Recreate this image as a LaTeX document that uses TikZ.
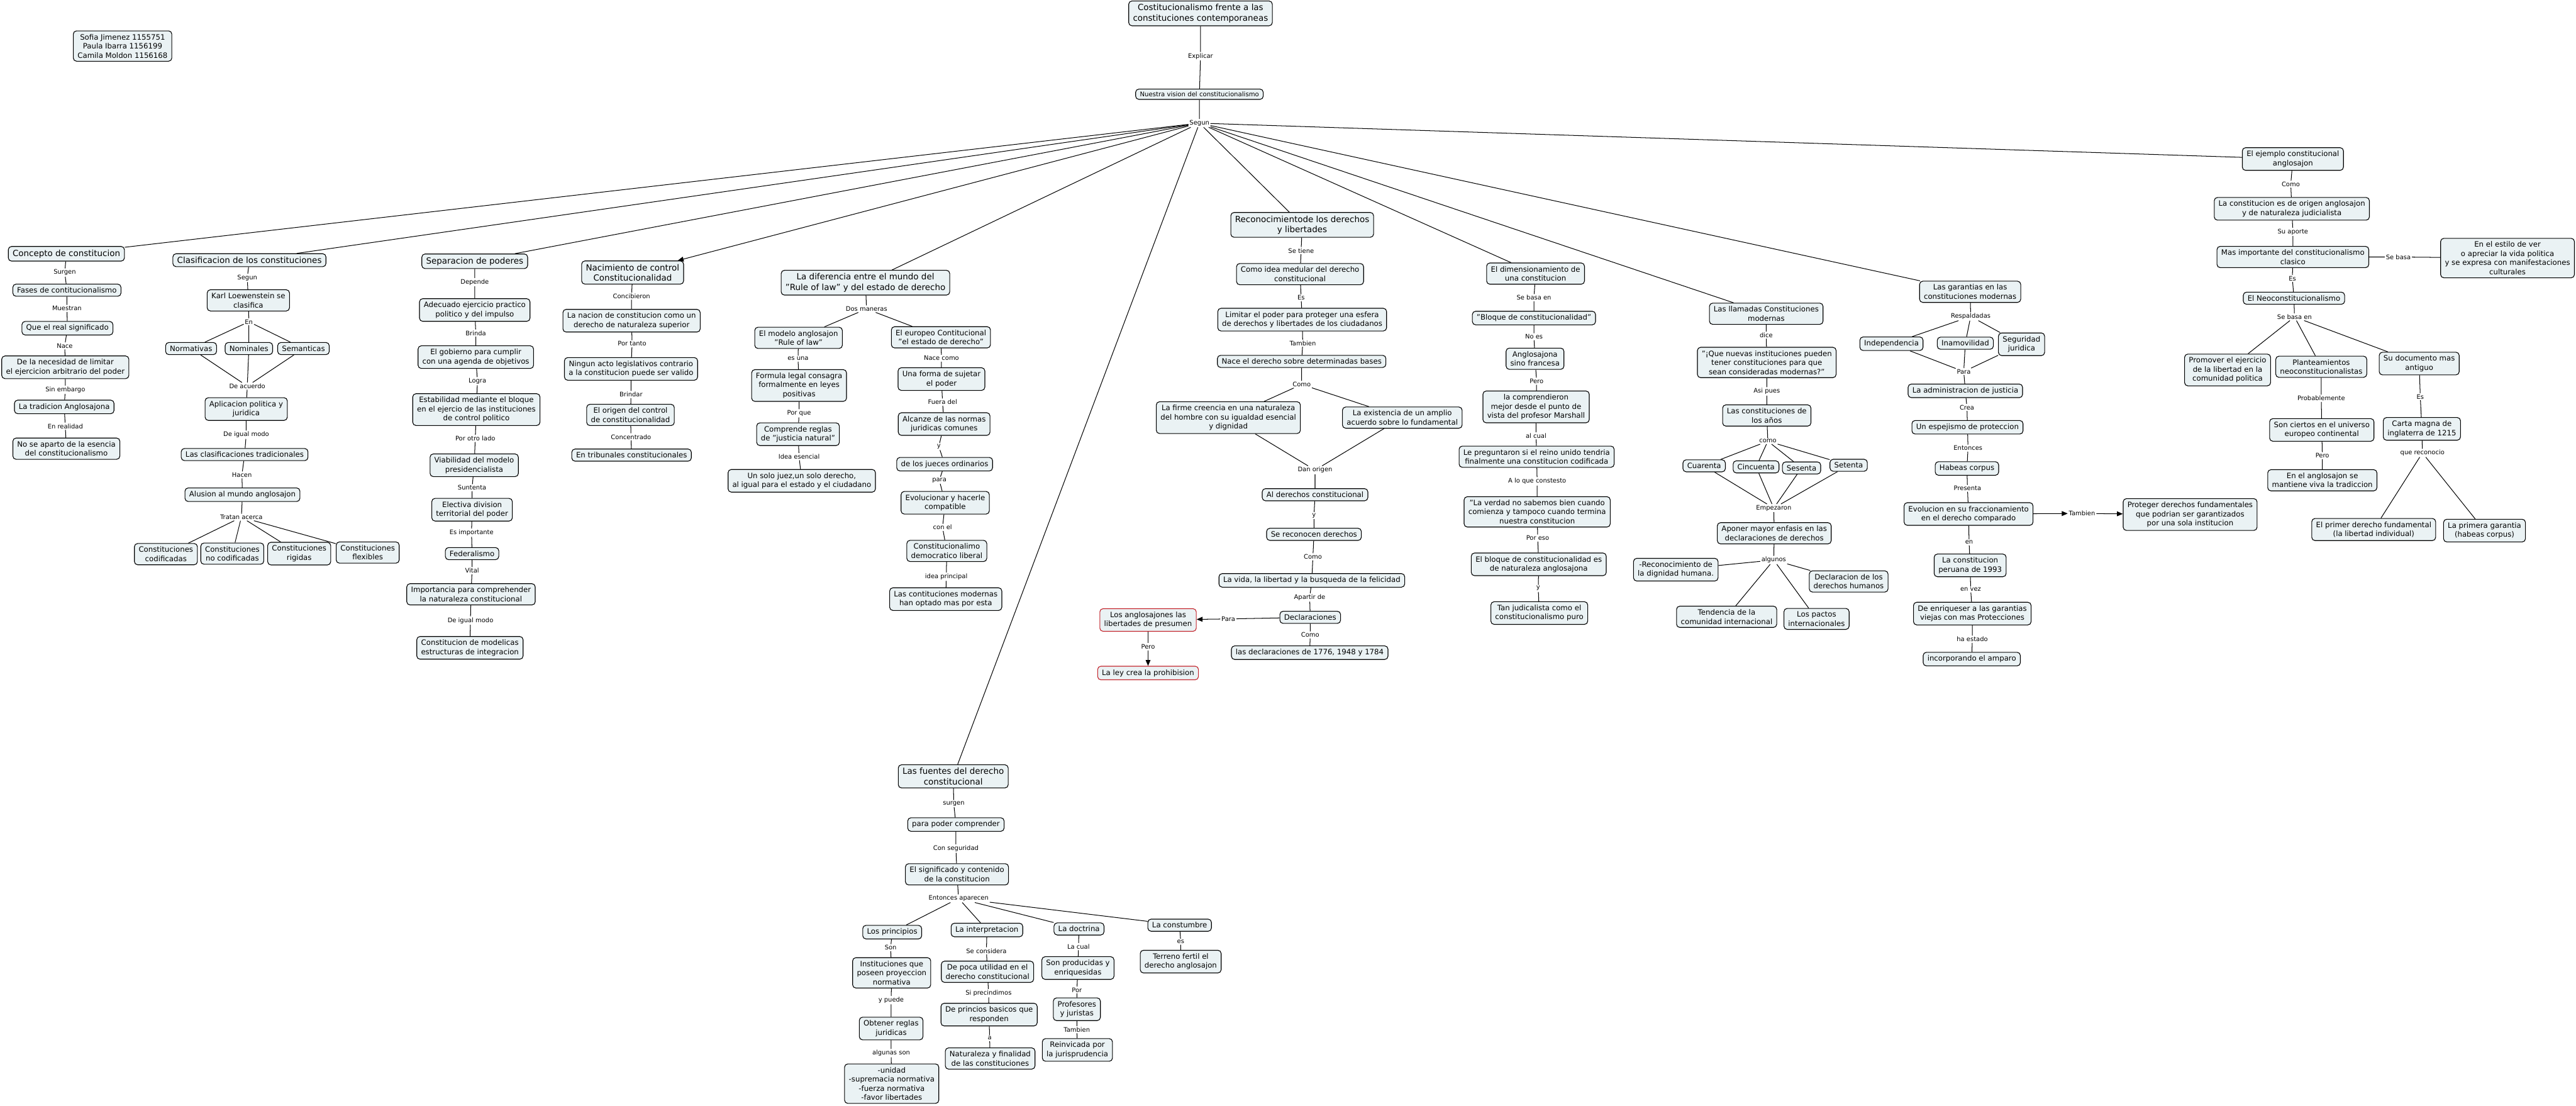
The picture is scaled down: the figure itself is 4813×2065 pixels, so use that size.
\documentclass[tikz,border=0pt]{standalone}
\usepackage{fontspec}
\setmainfont{DejaVu Sans}
\usetikzlibrary{arrows.meta}
\definecolor{boxfill}{RGB}{234,242,244}
\definecolor{boxred}{RGB}{196,36,44}
\newcommand\fnNorm{\fontsize{13.8}{17}\selectfont}
\newcommand\fnBig{\fontsize{15.8}{19}\selectfont}
\newcommand\fnLbl{\fontsize{11.7}{14}\selectfont}
\newcommand\fnSmall{\fontsize{11.9}{14}\selectfont}
\begin{document}
\begin{tikzpicture}[x=1pt,y={(0pt,-1pt)},
  box/.style={draw=black, fill=boxfill, rounded corners=6pt, line width=1.3pt, align=center, inner xsep=8pt, inner ysep=6pt, font=\fnNorm},
  big/.style={box, font=\fnBig},
  redbox/.style={box, draw=boxred},
  lbl/.style={inner sep=2pt, font=\fnLbl},
  con/.style={line width=1.2pt},
  arr/.style={con, -{Triangle[length=11pt,width=9pt]}}]
\fill[white] (0,0) rectangle (4813,2065);
\useasboundingbox (0,0) rectangle (4813,2065);

% ---- top ----
\node[box] (auth) at (229,86) {Sofia Jimenez 1155751\\Paula Ibarra 1156199\\Camila Moldon 1156168};
\node[big] (title) at (2243,25) {Costitucionalismo frente a las\\constituciones contemporaneas};
\node[lbl] (lexpl) at (2243,105) {Explicar};
\node[box, font=\fnSmall, inner ysep=5pt] (vision) at (2241,176) {Nuestra vision del constitucionalismo};
\node[lbl] (lsegun) at (2241,230) {Segun};

% ---- column 1 ----
\node[big] (c1) at (124,474) {Concepto de constitucion};
\node[lbl] (l1a) at (121,509) {Surgen};
\node[box] (c1b) at (125,542) {Fases de contitucionalismo};
\node[lbl] (l1b) at (125,576) {Muestran};
\node[box] (c1c) at (126,613) {Que el real significado};
\node[lbl] (l1c) at (121,646) {Nace};
\node[box] (c1d) at (122,686) {De la necesidad de limitar\\el ejercicion arbitrario del poder};
\node[lbl] (l1d) at (122,728) {Sin embargo};
\node[box] (c1e) at (120,760) {La tradicion Anglosajona};
\node[lbl] (l1e) at (122,796) {En realidad};
\node[box] (c1f) at (124,838) {No se aparto de la esencia\\del constitucionalismo};

% ---- column 2 ----
\node[big] (c2) at (466,486) {Clasificacion de los constituciones};
\node[lbl] (l2a) at (462,519) {Segun};
\node[box] (c2b) at (464,561) {Karl Loewenstein se\\clasifica};
\node[lbl] (l2b) at (465,601) {En};
\node[box] (c2n1) at (357,651) {Normativas};
\node[box] (c2n2) at (465,651) {Nominales};
\node[box] (c2n3) at (567,651) {Semanticas};
\node[lbl] (l2c) at (462,721) {De acuerdo};
\node[box] (c2c) at (460,764) {Aplicacion politica y\\juridica};
\node[lbl] (l2d) at (460,812) {De igual modo};
\node[box] (c2d) at (457,849) {Las clasificaciones tradicionales};
\node[lbl] (l2e) at (452,887) {Hacen};
\node[box] (c2e) at (453,924) {Alusion al mundo anglosajon};
\node[lbl] (l2f) at (451,966) {Tratan acerca};
\node[box] (c2f1) at (310,1035) {Constituciones\\codificadas};
\node[box] (c2f2) at (434,1034) {Constituciones\\no codificadas};
\node[box] (c2f3) at (559,1034) {Constituciones\\rigidas};
\node[box] (c2f4) at (687,1032) {Constituciones\\flexibles};

% ---- column 3 ----
\node[big] (c3) at (887,488) {Separacion de poderes};
\node[lbl] (l3a) at (887,527) {Depende};
\node[box] (c3b) at (887,579) {Adecuado ejercicio practico\\politico y del impulso};
\node[lbl] (l3b) at (889,622) {Brinda};
\node[box] (c3c) at (889,667) {El gobierno para cumplir\\con una agenda de objetivos};
\node[lbl] (l3c) at (892,712) {Logra};
\node[box] (c3d) at (890,765) {Estabilidad mediante el bloque\\en el ejercio de las instituciones\\de control politico};
\node[lbl] (l3d) at (888,819) {Por otro lado};
\node[box] (c3e) at (886,869) {Viabilidad del modelo\\presidencialista};
\node[lbl] (l3e) at (882,911) {Suntenta};
\node[box] (c3f) at (882,952) {Electiva division\\territorial del poder};
\node[lbl] (l3f) at (881,995) {Es importante};
\node[box] (c3g) at (882,1034) {Federalismo};
\node[lbl] (l3g) at (882,1066) {Vital};
\node[box] (c3h) at (880,1110) {Importancia para comprehender\\la naturaleza constitucional};
\node[lbl] (l3h) at (879,1159) {De igual modo};
\node[box] (c3i) at (878,1210) {Constitucion de modelicas\\estructuras de integracion};

% ---- column 4 ----
\node[big] (c4) at (1182,509) {Nacimiento de control\\Constitucionalidad};
\node[lbl] (l4a) at (1180,553) {Concibieron};
\node[box] (c4b) at (1180,599) {La nacion de constitucion como un\\derecho de naturaleza superior};
\node[lbl] (l4b) at (1181,642) {Por tanto};
\node[box] (c4c) at (1179,689) {Ningun acto legislativos contrario\\a la constitucion puede ser valido};
\node[lbl] (l4c) at (1179,737) {Brindar};
\node[box] (c4d) at (1178,775) {El origen del control\\de constitucionalidad};
\node[lbl] (l4d) at (1179,816) {Concentrado};
\node[box] (c4e) at (1180,850) {En tribunales constitucionales};

% ---- column 5 ----
\node[big] (c5) at (1617,528) {La diferencia entre el mundo del\\"Rule of law" y del estado de derecho};
\node[lbl] (l5a) at (1619,577) {Dos maneras};
\node[box] (c5m) at (1492,631) {El modelo anglosajon\\"Rule of law"};
\node[lbl] (l5b) at (1491,670) {es una};
\node[box] (c5m2) at (1493,720) {Formula legal consagra\\formalmente en leyes\\positivas};
\node[lbl] (l5c) at (1493,772) {Por que};
\node[box] (c5m3) at (1491,811) {Comprende reglas\\de "justicia natural"};
\node[lbl] (l5d) at (1493,853) {Idea esencial};
\node[box] (c5m4) at (1498,898) {Un solo juez,un solo derecho,\\al igual para el estado y el ciudadano};
\node[box] (c5e) at (1758,630) {El europeo Contitucional\\"el estado de derecho"};
\node[lbl] (l5e) at (1759,669) {Nace como};
\node[box] (c5e2) at (1759,708) {Una forma de sujetar\\el poder};
\node[lbl] (l5f) at (1761,751) {Fuera del};
\node[box] (c5e3) at (1764,792) {Alcanze de las normas\\juridicas comunes};
\node[lbl] (l5g) at (1754,834) {y};
\node[box] (c5e4) at (1765,867) {de los jueces ordinarios};
\node[lbl] (l5h) at (1755,897) {para};
\node[box] (c5e5) at (1766,939) {Evolucionar y hacerle\\compatible};
\node[lbl] (l5i) at (1761,985) {con el};
\node[box] (c5e6) at (1769,1029) {Constitucionalimo\\democratico liberal};
\node[lbl] (l5j) at (1768,1077) {idea principal};
\node[box] (c5e7) at (1767,1119) {Las contituciones modernas\\han optado mas por esta};

% ---- red nodes ----
\node[redbox] (red1) at (2145,1158) {Los anglosajones las\\libertades de presumen};
\node[lbl] (lpero) at (2145,1208) {Pero};
\node[redbox] (red2) at (2145,1257) {La ley crea la prohibision};

% ---- fuentes ----
\node[big] (f0) at (1781,1450) {Las fuentes del derecho\\constitucional};
\node[lbl] (lf1) at (1782,1501) {surgen};
\node[box] (f1) at (1786,1540) {para poder comprender};
\node[lbl] (lf2) at (1786,1585) {Con seguridad};
\node[box] (f2) at (1788,1633) {El significado y contenido\\de la constitucion};
\node[lbl] (lf3) at (1791,1678) {Entonces aparecen};
\node[box] (fp) at (1667,1741) {Los principios};
\node[box] (fi) at (1844,1737) {La interpretacion};
\node[box] (fd) at (2016,1735) {La doctrina};
\node[box] (fc) at (2204,1728) {La constumbre};
\node[lbl] (lfp1) at (1664,1770) {Son};
\node[box] (fp1) at (1666,1817) {Instituciones que\\poseen proyeccion\\normativa};
\node[lbl] (lfp2) at (1665,1868) {y puede};
\node[box] (fp2) at (1665,1921) {Obtener reglas\\juridicas};
\node[lbl] (lfp3) at (1665,1967) {algunas son};
\node[box] (fp3) at (1666,2024) {-unidad\\-supremacia normativa\\-fuerza normativa\\-favor libertades};
\node[lbl] (lfi1) at (1843,1776) {Se considera};
\node[box] (fi1) at (1845,1815) {De poca utilidad en el\\derecho constitucional};
\node[lbl] (lfi2) at (1847,1855) {Si precindimos};
\node[box] (fi2) at (1848,1895) {De princios basicos que\\responden};
\node[lbl] (lfi3) at (1849,1939) {a};
\node[box] (fi3) at (1850,1977) {Naturaleza y finalidad\\de las constituciones};
\node[lbl] (lfd1) at (2015,1768) {La cual};
\node[box] (fd1) at (2014,1808) {Son producidas y\\enriquesidas};
\node[lbl] (lfd2) at (2012,1849) {Por};
\node[box] (fd2) at (2012,1885) {Profesores\\y juristas};
\node[lbl] (lfd3) at (2012,1923) {Tambien};
\node[box] (fd3) at (2013,1961) {Reinvicada por\\la jurisprudencia};
\node[lbl] (lfc1) at (2206,1759) {es};
\node[box] (fc1) at (2206,1796) {Terreno fertil el\\derecho anglosajon};

% ---- reconocimiento ----
\node[big] (r0) at (2433,420) {Reconocimientode los derechos\\y libertades};
\node[lbl] (lr1) at (2431,468) {Se tiene};
\node[box] (r1) at (2429,512) {Como idea medular del derecho\\constitucional};
\node[lbl] (lr2) at (2431,556) {Es};
\node[box] (r2) at (2433,597) {Limitar el poder para proteger una esfera\\de derechos y libertades de los ciudadanos};
\node[lbl] (lr3) at (2434,641) {Tambien};
\node[box] (r3) at (2432,675) {Nace el derecho sobre determinadas bases};
\node[lbl] (lr4) at (2432,718) {Como};
\node[box] (r4a) at (2295,780) {La firme creencia en una naturaleza\\del hombre con su igualdad esencial\\y dignidad};
\node[box] (r4b) at (2620,780) {La existencia de un amplio\\acuerdo sobre lo fundamental};
\node[lbl] (lr5) at (2457,878) {Dan origen};
\node[box] (r5) at (2457,924) {Al derechos constitucional};
\node[lbl] (lr6) at (2455,963) {y};
\node[box] (r6) at (2455,998) {Se reconocen derechos};
\node[lbl] (lr7) at (2453,1040) {Como};
\node[box] (r7) at (2451,1084) {La vida, la libertad y la busqueda de la felicidad};
\node[lbl] (lr8) at (2447,1116) {Apartir de};
\node[box] (r8) at (2448,1153) {Declaraciones};
\node[lbl] (lr9) at (2448,1186) {Como};
\node[box] (r9) at (2447,1219) {las declaraciones de 1776, 1948 y 1784};
\node[lbl] (lpara) at (2295,1156) {Para};

% ---- dimensionamiento ----
\node[box] (d0) at (2869,511) {El dimensionamiento de\\una constitucion};
\node[lbl] (ld1) at (2866,556) {Se basa en};
\node[box] (d1) at (2866,594) {"Bloque de constitucionalidad"};
\node[lbl] (ld2) at (2866,629) {No es};
\node[box] (d2) at (2868,670) {Anglosajona\\sino francesa};
\node[lbl] (ld3) at (2871,712) {Pero};
\node[box] (d3) at (2870,760) {la comprendieron\\mejor desde el punto de\\vista del profesor Marshall};
\node[lbl] (ld4) at (2870,814) {al cual};
\node[box] (d4) at (2871,853) {Le preguntaron si el reino unido tendria\\finalmente una constitucion codificada};
\node[lbl] (ld5) at (2872,899) {A lo que constesto};
\node[box] (d5) at (2872,956) {"La verdad no sabemos bien cuando\\comienza y tampoco cuando termina\\nuestra constitucion};
\node[lbl] (ld6) at (2873,1005) {Por eso};
\node[box] (d6) at (2875,1054) {El bloque de constitucionalidad es\\de naturaleza anglosajona};
\node[lbl] (ld7) at (2874,1099) {y};
\node[box] (d7) at (2876,1145) {Tan judicalista como el\\constitucionalismo puro};

% ---- llamadas ----
\node[box] (m0) at (3300,586) {Las llamadas Constituciones\\modernas};
\node[lbl] (lm1) at (3300,626) {dice};
\node[box] (m1) at (3301,677) {"¡Que nuevas instituciones pueden\\tener constituciones para que\\sean consideradas modernas?"};
\node[lbl] (lm2) at (3301,731) {Asi pues};
\node[box] (m2) at (3301,776) {Las constituciones de\\los años};
\node[lbl] (lm3) at (3303,824) {como};
\node[box] (m3a) at (3184,870) {Cuarenta};
\node[box] (m3b) at (3281,872) {Cincuenta};
\node[box] (m3c) at (3366,874) {Sesenta};
\node[box] (m3d) at (3454,869) {Setenta};
\node[lbl] (lm4) at (3314,949) {Empezaron};
\node[box] (m4) at (3315,996) {Aponer mayor enfasis en las\\declaraciones de derechos};
\node[lbl] (lm5) at (3314,1046) {algunos};
\node[box] (m5a) at (3131,1064) {-Reconocimiento de\\la dignidad humana.};
\node[box] (m5b) at (3454,1086) {Declaracion de los\\derechos humanos};
\node[box] (m5c) at (3226,1152) {Tendencia de la\\comunidad internacional};
\node[box] (m5d) at (3394,1156) {Los pactos\\internacionales};

% ---- garantias ----
\node[box] (g0) at (3681,545) {Las garantias en las\\constituciones modernas};
\node[lbl] (lg1) at (3682,591) {Respaldadas};
\node[box] (g1a) at (3534,642) {Independencia};
\node[box] (g1b) at (3672,641) {Inamovilidad};
\node[box] (g1c) at (3777,643) {Seguridad\\juridica};
\node[lbl] (lg2) at (3669,694) {Para};
\node[box] (g2) at (3672,730) {La administracion de justicia};
\node[lbl] (lg3) at (3675,761) {Crea};
\node[box] (g3) at (3676,798) {Un espejismo de proteccion};
\node[lbl] (lg4) at (3677,837) {Entonces};
\node[box] (g4) at (3675,875) {Habeas corpus};
\node[lbl] (lg5) at (3676,912) {Presenta};
\node[box] (g5) at (3678,960) {Evolucion en su fraccionamiento\\en el derecho comparado};
\node[lbl] (ltamb) at (3890,959) {Tambien};
\node[box] (gprot) at (4092,961) {Proteger derechos fundamentales\\que podrian ser garantizados\\por una sola institucion};
\node[lbl] (lg6) at (3679,1013) {en};
\node[box] (g6) at (3681,1056) {La constitucion\\peruana de 1993};
\node[lbl] (lg7) at (3682,1101) {en vez};
\node[box] (g7) at (3685,1146) {De enriqueser a las garantias\\viejas con mas Protecciones};
\node[lbl] (lg8) at (3685,1194) {ha estado};
\node[box] (g8) at (3684,1231) {incorporando el amparo};

% ---- ejemplo ----
\node[box] (e0) at (4284,297) {El ejemplo constitucional\\anglosajon};
\node[lbl] (le1) at (4280,344) {Como};
\node[box] (e1) at (4282,390) {La constitucion es de origen anglosajon\\y de naturaleza judicialista};
\node[lbl] (le2) at (4284,433) {Su aporte};
\node[box] (e2) at (4284,480) {Mas importante del constitucionalismo\\clasico};
\node[lbl] (lebasa) at (4481,480) {Se basa};
\node[box] (eestilo) at (4685,482) {En el estilo de ver\\o apreciar la vida politica\\y se expresa con manifestaciones\\culturales};
\node[lbl] (le3) at (4283,520) {Es};
\node[box] (e3) at (4286,557) {El Neoconstitucionalismo};
\node[lbl] (le4) at (4287,592) {Se basa en};
\node[box] (ep) at (4162,691) {Promover el ejercicio\\de la libertad en la\\comunidad politica};
\node[box] (epl) at (4337,685) {Planteamientos\\neoconstitucionalistas};
\node[box] (ed) at (4520,679) {Su documento mas\\antiguo};
\node[lbl] (le5) at (4337,744) {Probablemente};
\node[box] (es) at (4338,803) {Son ciertos en el universo\\europeo continental};
\node[lbl] (le6) at (4339,851) {Pero};
\node[box] (ea) at (4339,897) {En el anglosajon se\\mantiene viva la tradiccion};
\node[lbl] (le7) at (4522,741) {Es};
\node[box] (ec) at (4525,801) {Carta magna de\\inglaterra de 1215};
\node[lbl] (le8) at (4526,846) {que reconocio};
\node[box] (ep1) at (4435,989) {El primer derecho fundamental\\(la libertad individual)};
\node[box] (ep2) at (4642,991) {La primera garantia\\(habeas corpus)};

% ================= connectors =================
\draw[con] (title) -- (lexpl) -- (vision) -- (lsegun);
\foreach \t in {c1,c2,c3,c5,f0,r0,d0,m0,g0,e0} \draw[con] (lsegun) -- (\t);
\draw[arr] (lsegun) -- (c4);

\draw[con] (c1) -- (l1a) -- (c1b) -- (l1b) -- (c1c) -- (l1c) -- (c1d) -- (l1d) -- (c1e) -- (l1e) -- (c1f);

\draw[con] (c2) -- (l2a) -- (c2b) -- (l2b);
\foreach \n in {c2n1,c2n2,c2n3} \draw[con] (l2b) -- (\n) -- (l2c);
\draw[con] (l2c) -- (c2c) -- (l2d) -- (c2d) -- (l2e) -- (c2e) -- (l2f);
\foreach \n in {c2f1,c2f2,c2f3,c2f4} \draw[con] (l2f) -- (\n);

\draw[con] (c3) -- (l3a) -- (c3b) -- (l3b) -- (c3c) -- (l3c) -- (c3d) -- (l3d) -- (c3e) -- (l3e) -- (c3f) -- (l3f) -- (c3g) -- (l3g) -- (c3h) -- (l3h) -- (c3i);

\draw[con] (c4) -- (l4a) -- (c4b) -- (l4b) -- (c4c) -- (l4c) -- (c4d) -- (l4d) -- (c4e);

\draw[con] (c5) -- (l5a);
\draw[con] (l5a) -- (c5m) -- (l5b) -- (c5m2) -- (l5c) -- (c5m3) -- (l5d) -- (c5m4);
\draw[con] (l5a) -- (c5e) -- (l5e) -- (c5e2) -- (l5f) -- (c5e3) -- (l5g) -- (c5e4) -- (l5h) -- (c5e5) -- (l5i) -- (c5e6) -- (l5j) -- (c5e7);

\draw[con] (f0) -- (lf1) -- (f1) -- (lf2) -- (f2) -- (lf3);
\foreach \n in {fp,fi,fd,fc} \draw[con] (lf3) -- (\n);
\draw[con] (fp) -- (lfp1) -- (fp1) -- (lfp2) -- (fp2) -- (lfp3) -- (fp3);
\draw[con] (fi) -- (lfi1) -- (fi1) -- (lfi2) -- (fi2) -- (lfi3) -- (fi3);
\draw[con] (fd) -- (lfd1) -- (fd1) -- (lfd2) -- (fd2) -- (lfd3) -- (fd3);
\draw[con] (fc) -- (lfc1) -- (fc1);

\draw[con] (r0) -- (lr1) -- (r1) -- (lr2) -- (r2) -- (lr3) -- (r3) -- (lr4);
\draw[con] (lr4) -- (r4a) -- (lr5);
\draw[con] (lr4) -- (r4b) -- (lr5);
\draw[con] (lr5) -- (r5) -- (lr6) -- (r6) -- (lr7) -- (r7) -- (lr8) -- (r8) -- (lr9) -- (r9);
\draw[con] (r8) -- (lpara);
\draw[arr] (lpara) -- (red1);
\draw[con] (red1) -- (lpero);
\draw[arr] (lpero) -- (red2);

\draw[con] (d0) -- (ld1) -- (d1) -- (ld2) -- (d2) -- (ld3) -- (d3) -- (ld4) -- (d4) -- (ld5) -- (d5) -- (ld6) -- (d6) -- (ld7) -- (d7);

\draw[con] (m0) -- (lm1) -- (m1) -- (lm2) -- (m2) -- (lm3);
\foreach \n in {m3a,m3b,m3c,m3d} \draw[con] (lm3) -- (\n) -- (lm4);
\draw[con] (lm4) -- (m4) -- (lm5);
\foreach \n in {m5a,m5b,m5c,m5d} \draw[con] (lm5) -- (\n);

\draw[con] (g0) -- (lg1);
\foreach \n in {g1a,g1b,g1c} \draw[con] (lg1) -- (\n) -- (lg2);
\draw[con] (lg2) -- (g2) -- (lg3) -- (g3) -- (lg4) -- (g4) -- (lg5) -- (g5) -- (lg6) -- (g6) -- (lg7) -- (g7) -- (lg8) -- (g8);
\draw[arr] (g5) -- (ltamb);
\draw[arr] (ltamb) -- (gprot);

\draw[con] (e0) -- (le1) -- (e1) -- (le2) -- (e2) -- (le3) -- (e3) -- (le4);
\draw[con] (e2) -- (lebasa) -- (eestilo);
\foreach \n in {ep,epl,ed} \draw[con] (le4) -- (\n);
\draw[con] (epl) -- (le5) -- (es) -- (le6) -- (ea);
\draw[con] (ed) -- (le7) -- (ec) -- (le8);
\draw[con] (le8) -- (ep1);
\draw[con] (le8) -- (ep2);
\end{tikzpicture}
\end{document}
